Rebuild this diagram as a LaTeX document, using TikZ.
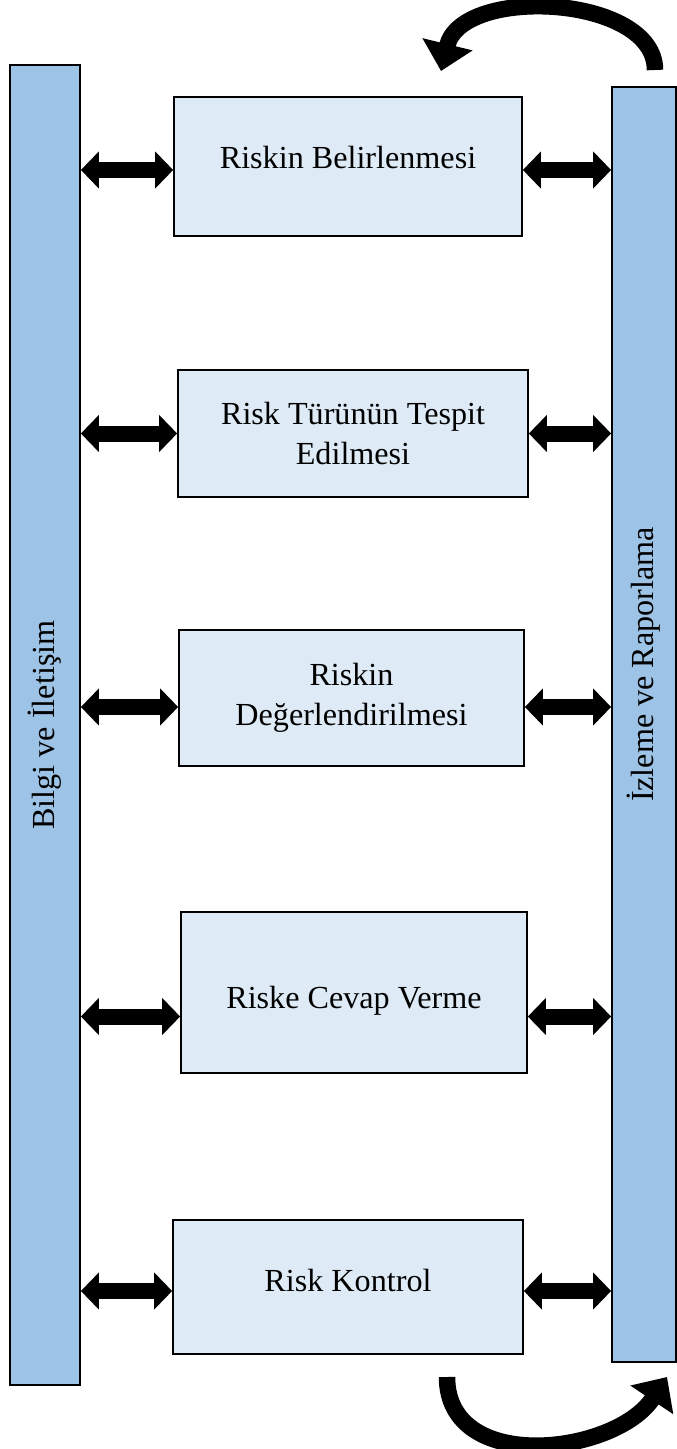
\documentclass[tikz,border=0pt]{standalone}
\usepackage{fontspec}
\setmainfont{Liberation Serif}
\usepackage{graphicx}
\definecolor{BarFill}{RGB}{157,195,230}
\definecolor{BoxFill}{RGB}{222,235,247}
\usetikzlibrary{arrows.meta}
% Raise text without changing its box
\newcommand{\lift}[2]{\raisebox{#1}[\height][\depth]{#2}}
\tikzset{
  % Side bar
  sidebar/.style={
    draw=black,
    fill=BarFill,
    line width=1pt,
    inner sep=0pt,
    font=\fontsize{18.3}{22.8}\selectfont
  },
  % Step box
  stepbox/.style={
    draw=black,
    fill=BoxFill,
    line width=1pt,
    align=center,
    inner sep=0pt,
    font=\fontsize{18.3}{22.8}\selectfont
  },
  % Two-way block arrow
  link/.style={
    line width=0.32cm,
    {Triangle[length=0.36cm,width=0.72cm]}-{Triangle[length=0.36cm,width=0.72cm]}
  },
  % Curved return arrow
  loop/.style={
    line width=0.33cm,
    -{Triangle[length=0.55cm,width=1.0cm]}
  }
}
\begin{document}
\begin{tikzpicture}[x=0.02cm,y=-0.02cm]
  \useasboundingbox (0,0) rectangle (676,1449);
  % Side bars
  \node[sidebar, minimum width=1.4cm, minimum height=26.4cm] (bil) at (45,725)
    {\rotatebox{90}{Bilgi ve İletişim}};
  \node[sidebar, minimum width=1.28cm, minimum height=25.5cm] (izl) at (644,724.5)
    {\rotatebox{90}{\hspace*{2.4cm}İzleme ve Raporlama}};
  % Steps
  \node[stepbox, minimum width=6.96cm, minimum height=2.78cm] (s1) at (348,166.5) {\lift{0.18cm}{Riskin Belirlenmesi}};
  \node[stepbox, minimum width=7.0cm, minimum height=2.54cm] (s2) at (353,433.5) {Risk Türünün Tespit\\Edilmesi};
  \node[stepbox, minimum width=6.9cm, minimum height=2.72cm] (s3) at (351.5,698) {Riskin\\Değerlendirilmesi};
  \node[stepbox, minimum width=6.92cm, minimum height=3.22cm] (s4) at (354,992.5) {\lift{-0.16cm}{Riske Cevap Verme}};
  \node[stepbox, minimum width=7.0cm, minimum height=2.68cm] (s5) at (348,1287) {\lift{0.14cm}{Risk Kontrol}};
  % Links to both bars
  \foreach \i/\dy in {1/-0.07, 2/0, 3/-0.18, 4/-0.48, 5/-0.08} {
    \coordinate (lw\i) at ([yshift=\dy cm]s\i.west);
    \coordinate (le\i) at ([yshift=\dy cm]s\i.east);
    \draw[link] (bil.east |- lw\i) -- (lw\i);
    \draw[link] (le\i) -- (izl.west |- le\i);
  }
  % Return arrows
  \coordinate (ttail) at (655,70);
  \coordinate (thead) at (441,71);
  \coordinate (btail) at (447,1377);
  \coordinate (bhead) at (667,1377);
  \draw[loop] (ttail) .. controls (655,-5) and (462,-15) .. (thead);
  \draw[loop] (btail) .. controls (447,1475) and (615,1455) .. (bhead);
\end{tikzpicture}
\end{document}
